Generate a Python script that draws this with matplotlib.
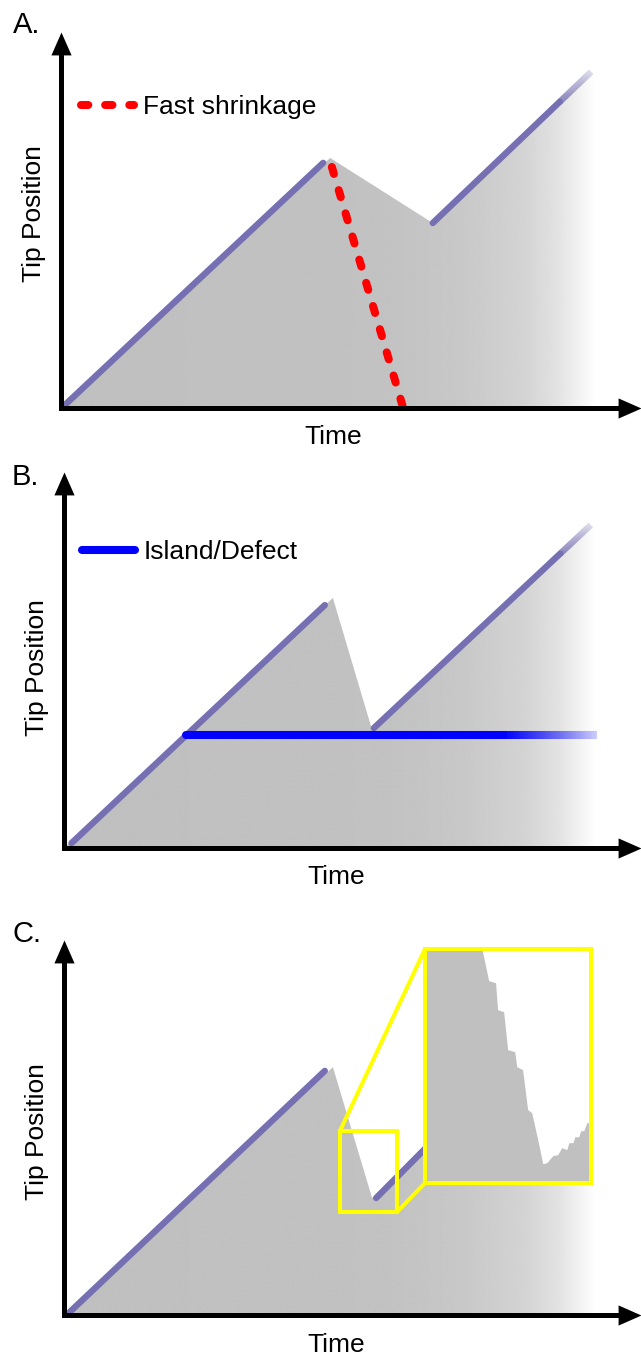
import numpy as np
import matplotlib
matplotlib.use("Agg")
import matplotlib.pyplot as plt
from matplotlib.collections import LineCollection
from matplotlib.patches import Rectangle, ConnectionPatch
from matplotlib.colors import to_rgba

plt.rcParams['font.family'] = ['Liberation Sans', 'DejaVu Sans']

GRAY = '#c0c0c0'
PURPLE = '#7670b3'
RED = '#ff0000'
BLUE = '#0000ff'
YELLOW = '#ffff00'

# --- data (time / tip position in arbitrary units, 0..100 on each axis) ---
# A: catastrophe, fast shrinkage, rescue
a_fill_t = [0, 46.4, 64.1, 91.4, 92.5, 92.5]
a_fill_y = [0, 66.5, 49.2, 89.4, 89.4, 0]
a_grow1_t = [0.8, 45.2]
a_grow1_y = [1.0, 65.2]
a_grow2_t = [64.1, 91.4]
a_grow2_y = [49.2, 89.4]
a_shrink_t = [46.7, 59.0]
a_shrink_y = [64.1, 0.0]

# B: shrinkage stopped by an island / defect
b_fill_t = [0, 46.6, 53.4, 91.3, 92.5, 92.5]
b_fill_y = [0, 66.5, 31.4, 85.9, 85.9, 0]
b_grow1_t = [1.3, 45.2]
b_grow1_y = [1.3, 64.6]
b_grow2_t = [53.7, 91.3]
b_grow2_y = [31.9, 85.9]
b_island_t = [21.1, 92.4]
b_island_y = [30.1, 30.1]

# C: same event with zoomed-in staircase shrinkage
c_fill_t = [0, 46.6, 53.4, 85.0, 92.5, 92.5]
c_fill_y = [0, 66.1, 31.2, 79.1, 79.1, 0]
c_grow1_t = [1.0, 45.2]
c_grow1_y = [0.8, 65.1]
c_grow2_t = [54.1, 85.0]
c_grow2_y = [31.2, 79.1]
zoom_t = [47.83, 57.71]
zoom_y = [27.47, 49.07]
detail_t = [46.6, 51.24, 51.62, 52.03, 52.15, 52.51, 52.75, 53.17, 53.29, 53.64,
            53.94, 54.18, 54.54, 54.84, 55.08, 55.43, 55.73, 55.97, 56.27, 56.39,
            56.63, 56.75, 56.98, 57.10, 57.28, 57.46, 57.80]
detail_y = [66.1, 48.92, 46.15, 45.96, 43.47, 43.28, 39.78, 39.59, 38.21, 37.93,
            34.24, 33.96, 31.47, 29.25, 29.35, 29.99, 30.09, 30.73, 30.55, 31.19,
            31.19, 31.74, 31.74, 32.30, 32.30, 33.04, 33.04]

# fade of the gray area toward the right
fade_t = [0, 55, 69, 80, 86, 92.1]
fade_a = [1, 0.97, 0.87, 0.68, 0.43, 0.0]

W, H = 641, 1357
fig = plt.figure(figsize=(W / 100, H / 100), dpi=100)


def faded_fill(ax, t, y):
    poly = ax.fill(t, y, facecolor='none', edgecolor='none')[0]
    xs = np.linspace(0, max(t), 600)
    img = np.zeros((1, len(xs), 4))
    img[..., :3] = to_rgba(GRAY)[:3]
    img[0, :, 3] = np.interp(xs, fade_t, fade_a)
    im = ax.imshow(img, extent=[0, max(t), 0, 100], aspect='auto',
                   interpolation='bilinear', zorder=1)
    im.set_clip_path(poly)


def fading_line(ax, t, y, color, lw, t_fade, a_end, zorder=3, label=None):
    t0, t1 = t
    y0, y1 = y
    if t1 <= t_fade:
        return ax.plot(t, y, color=color, lw=lw, solid_capstyle='round',
                       zorder=zorder, label=label)[0]
    yf = y0 + (y1 - y0) * (t_fade - t0) / (t1 - t0)
    ln = ax.plot([t0, t_fade], [y0, yf], color=color, lw=lw,
                 solid_capstyle='round', zorder=zorder, label=label)[0]
    ts = np.linspace(t_fade, t1, 60)
    ys = y0 + (y1 - y0) * (ts - t0) / (t1 - t0)
    pts = np.column_stack([ts, ys])
    segs = np.stack([pts[:-1], pts[1:]], axis=1)
    cols = np.tile(to_rgba(color), (len(segs), 1))
    cols[:, 3] = np.linspace(1, a_end, len(segs))
    ax.add_collection(LineCollection(segs, colors=cols, linewidths=lw,
                                     capstyle='butt', zorder=zorder))
    return ln


def setup_axes(x0, y0, ytip, letter, letter_xy, ylab_y, xlab_x, xlab_dy):
    ax = fig.add_axes([x0 / W, 1 - y0 / H, (W - x0) / W, (y0 - ytip) / H])
    ax.set_xlim(0, 100)
    ax.set_ylim(0, 100)
    ax.set_xticks([])
    ax.set_yticks([])
    for s in ['top', 'right']:
        ax.spines[s].set_visible(False)
    for s in ['left', 'bottom']:
        ax.spines[s].set_linewidth(3.6)
        ax.spines[s].set_capstyle('projecting')
        ax.spines[s].set_zorder(8)
    ax.spines['bottom'].set_bounds(0, 97)
    ax.spines['left'].set_bounds(0, 95)
    ax.plot(1, 0, marker=[(0, 0), (-1, 0.44), (-1, -0.44)], ms=33, mew=0,
            color='k', transform=ax.transAxes, clip_on=False, zorder=9)
    ax.plot(0, 1, marker=[(0, 0), (0.44, -1), (-0.44, -1)], ms=33, mew=0,
            color='k', transform=ax.transAxes, clip_on=False, zorder=9)
    ax.set_ylabel('Tip Position', fontsize=19, ha='center', va='center')
    ax.yaxis.set_label_coords(-27 / (W - x0), ylab_y)
    ax.set_xlabel('Time', fontsize=19, ha='center', va='center')
    ax.xaxis.set_label_coords((xlab_x - x0) / (W - x0), -xlab_dy / (y0 - ytip))
    fig.text(letter_xy[0] / W, 1 - letter_xy[1] / H, letter, fontsize=21,
             va='baseline', ha='left')
    return ax


# ---- A ----
axA = setup_axes(61, 408, 32, 'A.', (13, 33), 0.516, 333, 29)
faded_fill(axA, a_fill_t, a_fill_y)
fading_line(axA, a_grow1_t, a_grow1_y, PURPLE, 4.6, 200, 1)
fading_line(axA, a_grow2_t, a_grow2_y, PURPLE, 4.6, 86, 0.25)
red, = axA.plot(a_shrink_t, a_shrink_y, color=RED, lw=5.8, dashes=(0.9, 2.1),
                dash_capstyle='round', zorder=4, label='Fast shrinkage')
axA.set_xlim(0, 100)
axA.set_ylim(0, 100)
axA.legend(handles=[red], loc='center left', bbox_to_anchor=(0.0345, 0.80),
           frameon=False, borderpad=0, borderaxespad=0, handlelength=2.0,
           handletextpad=0.35, fontsize=19)

# ---- B ----
axB = setup_axes(64, 848, 472, 'B.', (12, 485), 0.479, 336, 29)
faded_fill(axB, b_fill_t, b_fill_y)
fading_line(axB, b_grow1_t, b_grow1_y, PURPLE, 4.6, 200, 1)
fading_line(axB, b_grow2_t, b_grow2_y, PURPLE, 4.6, 86, 0.25)
blue = fading_line(axB, b_island_t, b_island_y, BLUE, 5.8, 76, 0.2, zorder=5,
                   label='Island/Defect')
axB.set_xlim(0, 100)
axB.set_ylim(0, 100)
axB.legend(handles=[blue], loc='center left', bbox_to_anchor=(0.031, 0.787),
           frameon=False, borderpad=0, borderaxespad=0, handlelength=2.0,
           handletextpad=0.35, fontsize=19)

# ---- C ----
axC = setup_axes(64, 1315, 940, 'C.', (12, 942), 0.488, 336, 30)
faded_fill(axC, c_fill_t, c_fill_y)
fading_line(axC, c_grow1_t, c_grow1_y, PURPLE, 4.6, 200, 1)
fading_line(axC, c_grow2_t, c_grow2_y, PURPLE, 4.6, 200, 1)
axC.set_xlim(0, 100)
axC.set_ylim(0, 100)
axC.add_patch(Rectangle((zoom_t[0], zoom_y[0]), zoom_t[1] - zoom_t[0],
                        zoom_y[1] - zoom_y[0], fill=False, ec=YELLOW, lw=2.9,
                        zorder=6))

axins = fig.add_axes([425 / W, 1 - 1183 / H, 166 / W, 234 / H])
axins.fill_between(detail_t, 0, detail_y, color=GRAY, lw=0)
axins.set_xlim(zoom_t)
axins.set_ylim(zoom_y)
axins.set_xticks([])
axins.set_yticks([])
for s in axins.spines.values():
    s.set_edgecolor(YELLOW)
    s.set_linewidth(2.9)

for xyA, xyB in [((zoom_t[0], zoom_y[1]), (0, 1)), ((zoom_t[1], zoom_y[0]), (0, 0))]:
    cp = ConnectionPatch(xyA=xyA, coordsA=axC.transData, xyB=xyB,
                         coordsB=axins.transAxes, color=YELLOW, lw=2.9)
    fig.add_artist(cp)

fig.savefig('out.png', dpi=100)
